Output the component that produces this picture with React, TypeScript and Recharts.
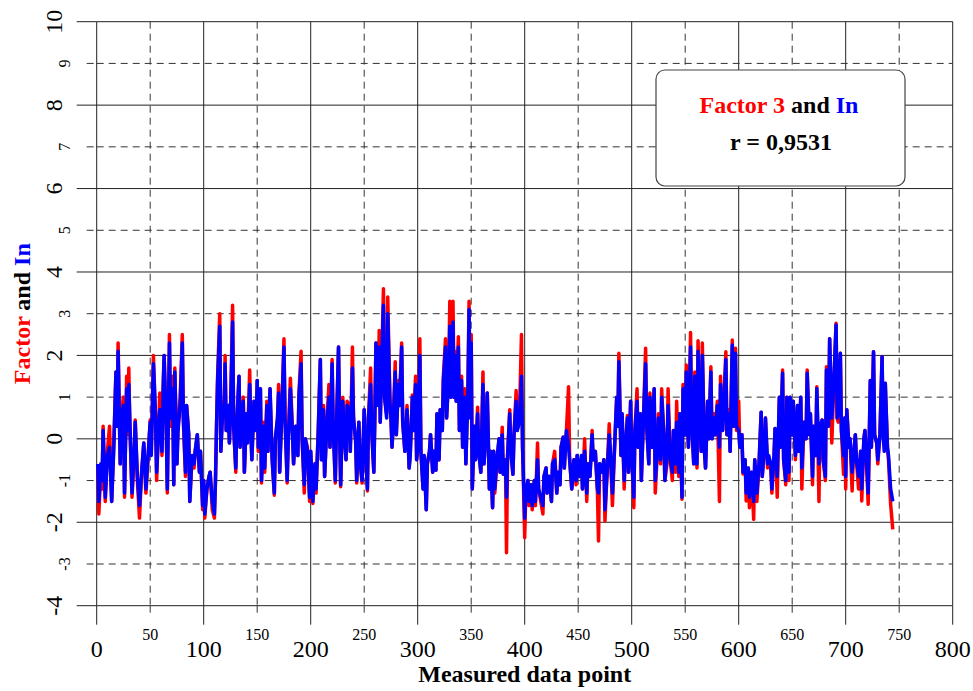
import React from 'react';
import { LineChart, Line, XAxis, YAxis, CartesianGrid, Label } from 'recharts';

const SERIF = '"Liberation Serif", "Times New Roman", Times, serif';

// Measured data point index (x)
const pointIndex: number[] = [
  1, 2, 4, 5, 6, 8, 10, 12, 14, 16,
  18, 19, 20, 22, 23, 25, 26, 28, 29, 30,
  31, 33, 35, 36, 38, 40, 42, 44, 46, 48,
  50, 51, 53, 55, 56, 58, 59, 61, 62, 63,
  65, 66, 68, 69, 71, 72, 73, 75, 76, 78,
  80, 81, 83, 84, 86, 87, 89, 91, 92, 94,
  96, 97, 99, 100, 101, 103, 105, 106, 108, 110,
  111, 112, 113, 115, 116, 118, 119, 120, 121, 123,
  124, 125, 127, 128, 130, 131, 133, 134, 135, 137,
  138, 140, 141, 143, 144, 145, 147, 149, 150, 151,
  153, 154, 156, 157, 159, 160, 162, 164, 166, 167,
  169, 170, 171, 173, 175, 176, 178, 179, 181, 183,
  184, 186, 188, 189, 191, 192, 194, 195, 197, 199,
  200, 202, 204, 205, 207, 209, 210, 212, 213, 215,
  217, 218, 220, 221, 223, 224, 226, 227, 228, 230,
  231, 233, 234, 236, 237, 239, 240, 242, 243, 245,
  246, 248, 250, 251, 253, 254, 256, 257, 259, 260,
  261, 263, 264, 265, 266, 268, 269, 271, 272, 274,
  275, 276, 277, 279, 280, 282, 283, 285, 286, 288,
  289, 290, 292, 293, 295, 296, 298, 299, 300, 302,
  303, 305, 306, 308, 309, 311, 312, 314, 315, 317,
  318, 320, 321, 323, 324, 326, 327, 329, 330, 331,
  333, 334, 335, 336, 338, 339, 341, 342, 344, 345,
  347, 348, 349, 350, 351, 353, 354, 356, 357, 359,
  361, 362, 364, 365, 367, 368, 370, 371, 372, 374,
  376, 377, 379, 380, 382, 383, 384, 386, 387, 389,
  390, 392, 393, 395, 397, 398, 400, 401, 403, 404,
  406, 407, 409, 410, 412, 413, 415, 417, 418, 420,
  421, 423, 425, 426, 428, 430, 431, 433, 434, 436,
  437, 439, 441, 442, 444, 446, 448, 449, 451, 453,
  454, 456, 458, 459, 461, 463, 464, 466, 468, 469,
  470, 472, 474, 475, 477, 479, 480, 482, 484, 486,
  487, 488, 490, 491, 493, 494, 496, 497, 499, 500,
  502, 503, 505, 506, 508, 509, 511, 513, 514, 516,
  517, 519, 521, 522, 524, 525, 527, 528, 530, 531,
  533, 534, 536, 538, 539, 541, 542, 544, 545, 547,
  548, 550, 551, 553, 555, 556, 558, 559, 561, 562,
  564, 565, 566, 568, 569, 571, 572, 574, 575, 577,
  578, 580, 582, 583, 585, 586, 588, 589, 591, 592,
  594, 595, 597, 598, 600, 601, 603, 604, 606, 607,
  609, 610, 612, 614, 615, 617, 619, 621, 622, 624,
  625, 627, 628, 630, 631, 633, 634, 636, 638, 639,
  641, 642, 644, 645, 647, 648, 650, 651, 653, 655,
  656, 658, 659, 661, 663, 664, 666, 667, 669, 670,
  672, 673, 675, 676, 678, 679, 681, 682, 684, 685,
  687, 689, 691, 692, 693, 695, 696, 698, 699, 700,
  701, 703, 704, 706, 707, 709, 710, 712, 714, 715,
  717, 718, 720, 721, 723, 724, 726, 727, 729, 730,
  732, 734, 735, 736, 737, 739, 740, 742, 744,
];

// In (blue)
const inValues: number[] = [
  -0.6, -1.5, -0.6, -1.0, 0.2, -1.4, -0.4, -0.2, -1.5, -0.2,
  1.6, 0.3, 2.1, -0.6, 0.5, 0.8, -1.3, 1.2, 0.2, 1.3,
  0.4, -1.3, -0.3, 0.4, -0.9, -1.6, -0.8, -0.1, -1.2, -0.4,
  0.4, -0.4, 1.8, 0.5, -0.8, 0.3, 0.7, -0.3, 1.0, 2.0,
  0.3, -1.2, 2.3, 0.5, 1.2, -1.1, 1.6, -0.6, 0.2, 0.8,
  2.3, 0.5, -0.8, 0.8, 0.1, -1.5, -0.4, -0.6, -0.3, 0.1,
  -0.8, -0.3, -1.6, -1.0, -1.8, -1.2, -0.9, -0.8, -1.5, -1.8,
  -1.0, 0.3, 1.4, 2.7, -0.3, 0.8, 0.6, 1.8, 0.2, 0.8,
  -0.1, 0.6, 2.8, 0.3, -0.7, 0.4, 1.5, -0.2, 0.4, 0.9,
  -0.8, 0.6, -0.1, 1.3, 0.3, -0.5, 0.9, 0.2, 1.4, -0.2,
  1.2, -1.0, 0.3, -0.7, 0.8, -0.3, 1.2, -0.5, -1.3, 0.0,
  0.5, 1.1, -0.8, 0.6, 2.2, 0.5, -1.0, -0.1, 1.2, 0.1,
  -0.6, 0.3, -0.4, 1.0, 1.8, 0.0, -1.1, 0.0, -0.3, -1.4,
  -0.3, -1.5, -0.6, -1.2, 0.1, 1.9, -0.5, 0.7, -0.9, 0.3,
  1.0, -0.2, 1.8, 0.3, -1.0, 0.2, 2.2, 0.2, -1.1, 0.9,
  0.3, -0.5, 0.8, 0.7, -0.3, 1.7, 0.5, -0.05, -1.0, 0.4,
  -0.5, -1.0, 0.7, -0.2, -1.2, 0.5, 1.3, 0.2, -0.8, 0.6,
  2.3, 0.8, 2.2, 0.4, 1.5, 3.2, 1.0, 0.5, 3.0, 0.9,
  0.5, -0.2, 0.3, 1.6, 0.1, 1.3, 0.8, 2.2, 0.4, -0.3,
  0.2, 0.7, -0.7, -0.4, 1.0, 0.2, 1.3, -0.5, -0.2, 2.0,
  -0.3, -1.2, -0.4, -1.7, -0.6, -0.3, 0.1, -0.8, -0.3, -0.75,
  0.6, -0.5, 0.7, 0.2, 1.4, 2.2, 0.5, 1.5, 2.7, 1.0,
  2.8, 1.0, 2.0, 0.9, 2.2, 0.2, 1.4, -0.2, 1.0, -0.6,
  1.2, 3.1, 0.5, 2.3, -1.2, 0.3, -0.5, 0.6, -0.3, -0.8,
  1.3, -0.6, 0.3, 1.1, -1.2, -0.3, -1.65, -0.3, -1.2, -0.5,
  0.0, -0.8, 0.1, -0.85, -0.5, -1.4, -0.4, 0.6, -0.3, -0.85,
  0.1, 0.9, 0.2, 0.4, 1.5, -0.2, -1.9, -1.3, -1.0, -1.5,
  -1.1, -1.6, -1.0, -1.5, -0.5, -1.2, -1.4, -1.6, -0.9, -0.7,
  -1.3, -0.9, -1.5, -0.6, -0.5, -1.3, -0.8, -1.1, -0.2, 0.04,
  -0.7, 0.2, -0.2, -0.5, -1.2, -0.5, -1.0, -0.4, -0.9, -0.4,
  -1.2, -0.3, -1.3, -0.6, -0.9, 0.1, -0.5, -0.3, -1.2, -1.3,
  -0.6, -0.8, -0.5, -1.7, -0.8, 0.1, -0.3, -1.3, -0.2, 1.0,
  0.3, 1.85, -0.4, 0.6, -1.0, -0.3, 0.5, -0.8, 0.9, -0.4,
  -1.4, 0.2, 0.9, -0.2, 0.6, -1.0, 0.5, 1.8, 0.3, -0.6,
  1.0, -0.2, 1.2, -1.0, -0.3, 0.5, -0.5, 1.0, 0.1, -1.0,
  -0.3, 0.8, -0.5, -0.8, 0.2, -0.6, 0.4, -0.8, 0.6, -1.4,
  1.2, 0.1, 1.6, -0.2, 2.2, 0.4, -0.6, 1.5, -0.6, 2.1,
  0.2, -0.3, 2.0, -0.3, -0.7, 0.9, 0.0, 1.6, 0.0, 0.5,
  0.1, 0.8, -0.2, 1.3, 0.2, 0.7, 1.9, 0.1, 0.6, -0.3,
  2.25, 0.3, 2.05, 0.3, 0.2, -0.2, 0.1, -0.8, -0.5, -1.3,
  -0.7, -1.4, -0.8, -1.5, -0.5, -1.3, -0.6, 0.64, -0.9, -0.2,
  0.5, -0.6, -0.4, -0.6, -1.2, -0.4, 0.25, -0.9, 1.0, -0.2,
  1.57, -0.5, -1.0, 1.0, -0.8, 1.0, 0.1, 0.9, -0.4, 0.8,
  -0.3, 1.0, -0.7, 0.4, 0.0, 1.57, 0.1, 0.6, -0.9, 0.3,
  -0.4, 1.2, -0.6, 0.3, 0.45, -0.5, -0.9, 1.65, 0.3, 2.4,
  0.5, 1.4, 2.73, 0.5, 0.6, 2.05, 0.2, -0.4, 0.5, -0.9,
  0.7, -0.2, 0.0, -0.8, -0.5, 0.1, -0.5, -0.9, -0.3, -1.2,
  0.0, 0.2, -0.8, -1.3, 1.4, -0.2, 2.09, 0.1, -0.1, -0.5,
  0.1, 1.97, 0.1, -0.3, 1.33, -0.2, -0.4, -1.2, -1.5,
];

// Factor 3 (red)
const factor3Values: number[] = [
  -0.6, -1.8, -0.6, -1.2, 0.3, -1.5, -0.3, 0.3, -1.5, -0.1,
  1.6, 0.3, 2.3, -0.6, 0.6, 1.0, -1.4, 1.5, 0.1, 1.7,
  0.3, -1.4, -0.4, 0.45, -1.0, -1.9, -0.8, -0.1, -1.3, -0.5,
  0.45, -0.3, 2.0, 0.5, -1.0, 0.4, 1.1, -0.4, 1.2, 2.0,
  0.3, -1.3, 2.5, 0.3, 1.5, -1.1, 1.7, -0.6, 0.3, 1.0,
  2.5, 0.4, -0.9, 0.8, 0.1, -1.5, -0.5, -0.7, -0.3, 0.1,
  -0.8, -0.3, -1.7, -1.0, -1.9, -1.2, -0.9, -0.8, -1.7, -1.9,
  -1.0, 0.3, 1.5, 3.0, -0.3, 0.9, 0.5, 2.0, 0.2, 0.8,
  -0.1, 0.6, 3.2, 0.3, -0.8, 0.4, 1.5, -0.2, 0.5, 1.0,
  -0.8, 0.6, 0.0, 1.65, 0.3, -0.5, 0.9, 0.2, 1.4, -0.3,
  1.2, -1.06, 0.4, -0.8, 0.9, -0.3, 1.2, -0.5, -1.35, 0.0,
  0.5, 1.3, -0.8, 0.7, 2.4, 0.5, -1.06, 0.0, 1.45, 0.2,
  -0.6, 0.3, -0.4, 1.1, 2.1, 0.0, -1.3, 0.0, -0.2, -1.5,
  -0.3, -1.55, -0.6, -1.3, 0.2, 1.9, -0.5, 0.8, -0.9, 0.3,
  1.3, -0.2, 1.9, 0.3, -1.06, 0.2, 2.2, 0.2, -1.15, 1.0,
  0.3, -0.5, 0.9, 0.8, -0.3, 2.2, 0.5, -0.05, -1.06, 0.4,
  -0.5, -1.06, 0.7, -0.2, -1.25, 0.5, 1.7, 0.2, -0.8, 0.6,
  2.3, 0.9, 2.6, 0.4, 1.5, 3.6, 1.0, 0.6, 3.4, 1.0,
  0.5, -0.2, 0.3, 1.85, 0.1, 1.4, 0.8, 2.3, 0.4, -0.3,
  0.2, 0.8, -0.7, -0.4, 1.05, 0.2, 1.5, -0.5, -0.2, 2.4,
  -0.3, -1.2, -0.4, -1.7, -0.6, -0.3, 0.1, -0.8, -0.3, -0.75,
  0.6, -0.5, 0.7, 0.2, 1.5, 2.4, 0.5, 1.6, 3.3, 1.0,
  3.3, 1.0, 2.1, 0.9, 2.45, 0.2, 1.5, -0.2, 1.2, -0.6,
  1.3, 3.3, 0.6, 2.5, -1.2, 0.3, -0.5, 0.76, -0.3, -0.8,
  1.6, -0.6, 0.4, 1.1, -1.2, -0.3, -1.65, -0.3, -1.3, -0.6,
  0.0, -0.8, 0.28, -0.85, -0.5, -2.73, -0.4, 0.7, -0.3, -0.85,
  0.1, 1.16, 0.2, 0.5, 2.5, -0.2, -2.37, -1.3, -1.0, -1.6,
  -1.1, -1.7, -1.0, -1.6, -0.1, -1.2, -1.5, -1.8, -0.9, -0.7,
  -1.3, -0.9, -1.5, -0.6, -0.3, -1.3, -0.8, -1.1, -0.2, 0.04,
  -0.7, 0.2, 1.25, -0.5, -1.2, -0.5, -1.1, -0.4, -0.9, -0.5,
  -1.2, 0.0, -1.5, -0.6, -0.9, 0.2, -0.5, -0.3, -1.3, -2.45,
  -0.6, -0.8, -0.5, -1.97, -0.8, 0.36, -0.3, -1.6, -0.2, 1.0,
  0.3, 2.05, -0.4, 0.6, -1.2, -0.3, 0.56, -0.8, 0.9, -0.4,
  -1.65, 0.2, 1.2, -0.2, 0.6, -1.0, 0.5, 2.17, 0.3, -0.6,
  1.1, -0.2, 1.2, -1.3, -0.3, 0.6, -0.6, 1.2, 0.1, -1.0,
  -0.6, 1.2, -0.5, -1.0, 0.2, -0.8, 0.9, -0.9, 0.6, -1.45,
  1.3, 0.1, 1.77, -0.2, 2.55, 0.4, -0.6, 1.6, -0.7, 2.35,
  0.2, -0.3, 2.3, -0.3, -0.7, 0.9, 0.0, 1.73, 0.0, 0.6,
  0.1, 0.9, -1.5, 1.5, 0.2, 0.8, 2.09, 0.1, 0.7, -0.3,
  2.37, 0.3, 2.17, 0.2, 0.9, -0.2, 0.1, -0.84, -0.5, -1.49,
  -0.7, -1.65, -0.8, -1.93, -0.5, -1.5, -0.6, 0.64, -0.9, -0.2,
  0.5, -0.7, -0.5, -0.7, -1.3, -0.4, 0.25, -1.4, 1.0, -0.2,
  1.65, -0.5, -1.1, 1.0, -1.0, 1.0, 0.1, 0.9, -0.5, 0.8,
  -0.3, 1.0, -1.2, 0.4, 0.0, 1.65, 0.1, 0.6, -1.1, 0.3,
  -0.4, 1.25, -1.5, 0.3, 0.45, -0.5, -1.0, 1.73, 0.4, 2.4,
  -0.1, 1.4, 2.77, 0.5, 0.4, 2.05, 0.2, -0.85, 0.5, -1.2,
  0.7, -0.2, 0.0, -1.25, -0.5, 0.1, -0.5, -1.2, -0.3, -1.49,
  0.0, 0.2, -0.9, -1.57, 1.4, -0.2, 2.09, 0.1, -0.1, -0.6,
  0.1, 1.97, 0.1, 0.35, 1.33, -0.2, -0.5, -1.57, -2.17,
];

const xTicks = [0, 50, 100, 150, 200, 250, 300, 350, 400, 450, 500, 550, 600, 650, 700, 750, 800];
const xMajor = [0, 100, 200, 300, 400, 500, 600, 700, 800];
const xMinor = [50, 150, 250, 350, 450, 550, 650, 750];
const yTicks = [-4, -3, -2, -1, 0, 1, 2, 3, 4, 5, 6, 7, 8, 9, 10];
const yMajor = [-4, -2, 0, 2, 4, 6, 8, 10];
const yMinor = [-3, -1, 1, 3, 5, 7, 9];

const n = Math.min(pointIndex.length, inValues.length, factor3Values.length);
const data = pointIndex.slice(0, n).map((x, i) => ({
  x,
  factor3: factor3Values[i],
  inVal: inValues[i],
}));

const GRID_SOLID = '#222';
const GRID_DASH = '#333';
const DASH = '7 5';
const serifStyle = { fontFamily: SERIF };

const XTick = (props: any) => {
  const { x, y, payload } = props;
  const v = payload.value;
  const major = v % 100 === 0;
  return (
    <g>
      <line
        x1={x}
        x2={x}
        y1={y}
        y2={y + (major ? 19 : 10)}
        stroke={major ? GRID_SOLID : GRID_DASH}
        strokeWidth={1}
        strokeDasharray={major ? undefined : DASH}
      />
      <text
        x={x}
        y={y + (major ? 51 : 34)}
        textAnchor="middle"
        fontSize={major ? 24 : 16}
        fontFamily={SERIF}
        style={serifStyle}
        fill="#000"
      >
        {v}
      </text>
    </g>
  );
};

const YTick = (props: any) => {
  const { x, y, payload } = props;
  const v = payload.value;
  const major = v % 2 === 0;
  const bx = x - (major ? 35 : 27);
  return (
    <g>
      <line
        x1={x - (major ? 20 : 10)}
        x2={x}
        y1={y}
        y2={y}
        stroke={major ? GRID_SOLID : GRID_DASH}
        strokeWidth={1}
        strokeDasharray={major ? undefined : DASH}
      />
      <text
        x={bx}
        y={y}
        transform={`rotate(-90, ${bx}, ${y})`}
        textAnchor="middle"
        fontSize={major ? 24 : 16}
        fontFamily={SERIF}
        style={serifStyle}
        fill="#000"
      >
        {v}
      </text>
    </g>
  );
};

const YTitle = (props: any) => {
  const vb = props.viewBox || { x: 20, y: 22, width: 76, height: 584 };
  const bx = vb.x + 9.5;
  const cy = vb.y + vb.height / 2;
  return (
    <text
      x={bx}
      y={cy}
      transform={`rotate(-90, ${bx}, ${cy})`}
      textAnchor="middle"
      fontSize={24}
      fontWeight="bold"
      fontFamily={SERIF}
      style={{ whiteSpace: 'pre', fontFamily: SERIF }}
    >
      <tspan fill="#ff0000">Factor</tspan>
      <tspan fill="#000000"> and </tspan>
      <tspan fill="#0000ff">In</tspan>
    </text>
  );
};

const XTitle = (props: any) => {
  const vb = props.viewBox || { x: 97, y: 606, width: 856, height: 60 };
  return (
    <text
      x={vb.x + vb.width / 2}
      y={vb.y + 76}
      textAnchor="middle"
      fontSize={24}
      fontWeight="bold"
      fontFamily={SERIF}
      style={serifStyle}
      fill="#000"
    >
      Measured data point
    </text>
  );
};

export default function App() {
  return (
    <div style={{ position: 'absolute', left: 0, top: 0, width: 973, height: 691, background: '#fff' }}>
      <LineChart
        width={973}
        height={691}
        data={data}
        margin={{ top: 21.7, right: 20.3, bottom: 25.3, left: 20.7 }}
      >
        <CartesianGrid
          stroke={GRID_SOLID}
          strokeWidth={1}
          horizontalValues={yMajor}
          verticalValues={xMajor}
        />
        <CartesianGrid
          stroke={GRID_DASH}
          strokeWidth={1}
          strokeDasharray={DASH}
          horizontalValues={yMinor}
          verticalValues={xMinor}
        />
        <XAxis
          type="number"
          dataKey="x"
          domain={[0, 800]}
          ticks={xTicks}
          interval={0}
          axisLine={false}
          tickLine={false}
          tickSize={0}
          tickMargin={0}
          height={60}
          tick={<XTick />}
        >
          <Label content={<XTitle />} />
        </XAxis>
        <YAxis
          type="number"
          domain={[-4, 10]}
          ticks={yTicks}
          interval={0}
          axisLine={false}
          tickLine={false}
          tickSize={0}
          tickMargin={0}
          width={76}
          tick={<YTick />}
        >
          <Label content={<YTitle />} />
        </YAxis>
        <Line
          type="linear"
          dataKey="factor3"
          stroke="#ff0000"
          strokeWidth={3.5}
          strokeLinejoin="round"
          dot={false}
          isAnimationActive={false}
        />
        <Line
          type="linear"
          dataKey="inVal"
          stroke="#0000ff"
          strokeWidth={3.5}
          strokeLinejoin="round"
          dot={false}
          isAnimationActive={false}
        />
      </LineChart>
      <svg
        width={973}
        height={691}
        style={{ position: 'absolute', left: 0, top: 0, pointerEvents: 'none' }}
      >
        <rect x={656} y={70} width={249} height={116} rx={9} ry={9} fill="#fff" stroke="#444" strokeWidth={1.2} />
        <text
          x={779}
          y={112.5}
          textAnchor="middle"
          fontSize={24}
          fontWeight="bold"
          fontFamily={SERIF}
          style={{ whiteSpace: 'pre', fontFamily: SERIF }}
        >
          <tspan fill="#ff0000">Factor 3</tspan>
          <tspan fill="#000000"> and </tspan>
          <tspan fill="#0000ff">In</tspan>
        </text>
        <text
          x={781}
          y={150}
          textAnchor="middle"
          fontSize={24}
          fontWeight="bold"
          fontFamily={SERIF}
          style={serifStyle}
          fill="#000"
        >
          r = 0,9531
        </text>
      </svg>
    </div>
  );
}
